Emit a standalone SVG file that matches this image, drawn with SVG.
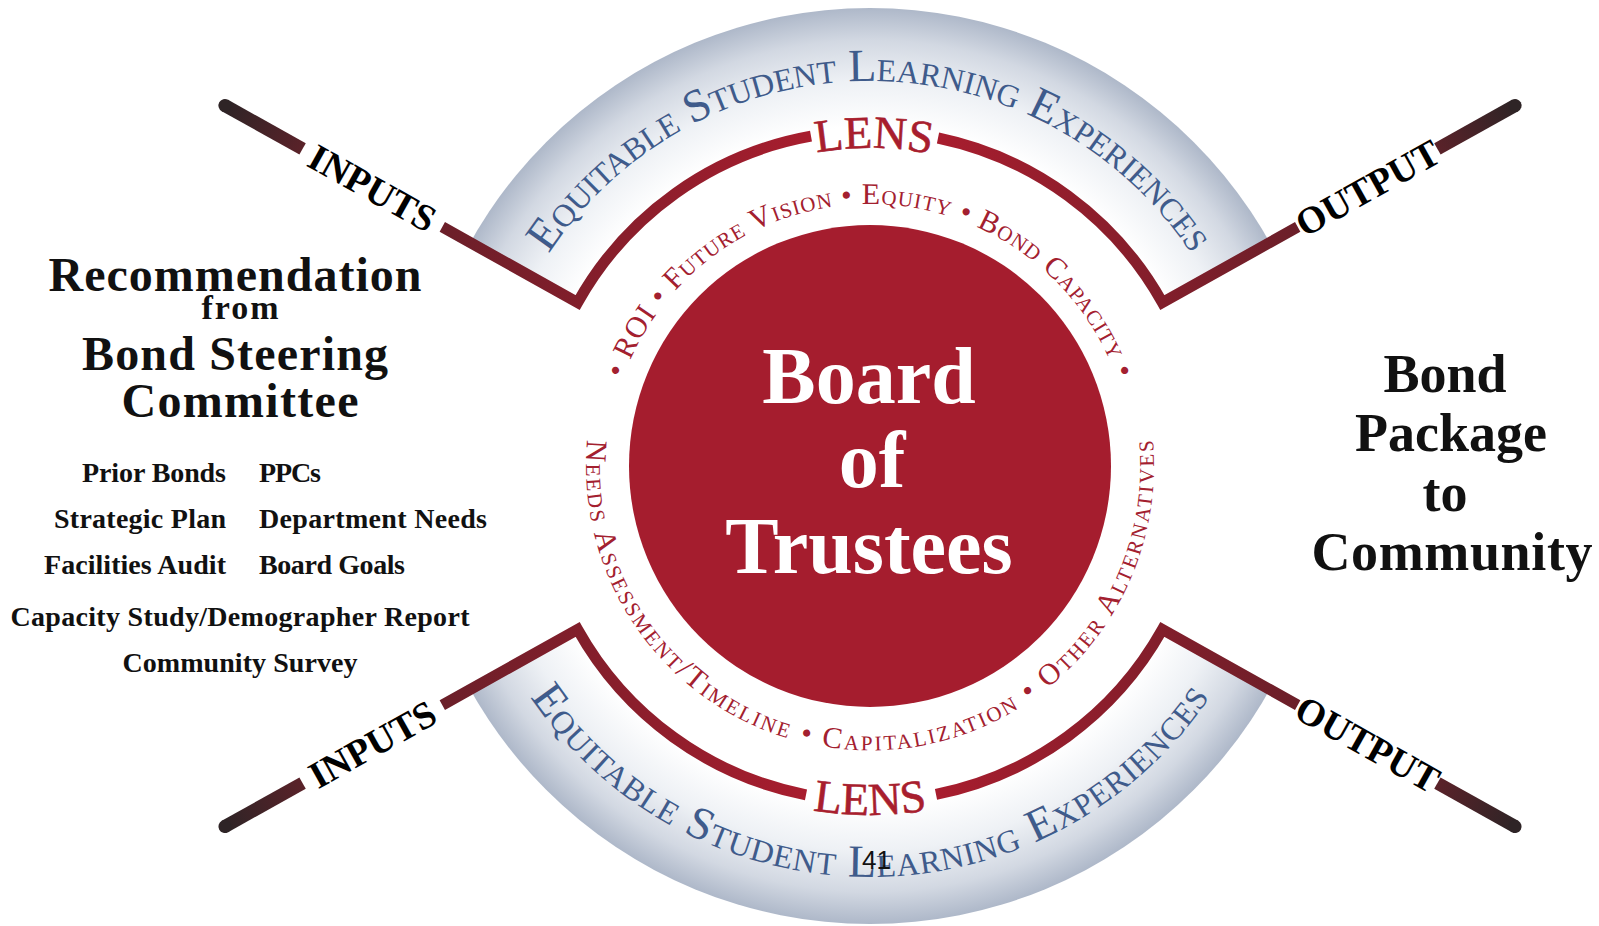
<svg xmlns="http://www.w3.org/2000/svg" width="1599" height="926" viewBox="0 0 1599 926">
<style>
.hd{font-family:"Liberation Serif","Times New Roman",serif;font-weight:bold;fill:#111}
.lbl{font-family:"Liberation Serif","Times New Roman",serif;font-weight:bold;font-size:38px;fill:#000;text-anchor:middle}
.blue{font-family:"Liberation Serif","Times New Roman",serif;font-size:46px;font-variant:small-caps;fill:#3f5b8b}
.red{font-family:"Liberation Serif","Times New Roman",serif;font-size:30px;font-variant:small-caps;fill:#a3202f}
.lens{font-family:"Liberation Serif","Times New Roman",serif;font-size:46px;fill:#a81e2e;stroke:#a81e2e;stroke-width:0.6}
.board{font-family:"Liberation Serif","Times New Roman",serif;font-weight:bold;font-size:80px;fill:#fff;text-anchor:middle}
.inner{fill:none;stroke-width:11;stroke-linejoin:miter}
.outer{stroke:url(#outerSeg);stroke-width:13}
.cap{fill:#2e2426}
</style>
<defs>
<radialGradient id="ringGrad" gradientUnits="userSpaceOnUse" cx="870" cy="466" r="458">
<stop offset="0" stop-color="#ffffff"/>
<stop offset="0.74" stop-color="#ffffff"/>
<stop offset="0.84" stop-color="#eef1f5"/>
<stop offset="0.93" stop-color="#d2d8e2"/>
<stop offset="1" stop-color="#aeb8c9"/>
</radialGradient>
<linearGradient id="arcL" x1="0" y1="0" x2="1" y2="0">
<stop offset="0" stop-color="#6b1f29"/>
<stop offset="1" stop-color="#a81d2e"/>
</linearGradient>
<linearGradient id="arcR" x1="0" y1="0" x2="1" y2="0">
<stop offset="0" stop-color="#a81d2e"/>
<stop offset="1" stop-color="#6b1f29"/>
</linearGradient>
<linearGradient id="outerSeg" gradientUnits="userSpaceOnUse" x1="650" y1="0" x2="739" y2="0">
<stop offset="0" stop-color="#5a2229"/>
<stop offset="1" stop-color="#2e2426"/>
</linearGradient>
<path id="pBlueTop" d="M547.1,256.3 A385,385 0 0 1 1192.9,256.3"/>
<path id="pBlueBot" d="M525.3,689.8 A411,411 0 0 0 1214.7,689.8"/>
<path id="pRedTop" d="M622.3,380.7 A262,262 0 0 1 1117.7,380.7"/>
<path id="pRedBot" d="M587.6,436.3 A284,284 0 1 0 1152.4,436.3"/>
<path id="pLensTop" d="M714.4,188.7 A318,318 0 0 1 1032.4,192.6"/>
<path id="pLensBot" d="M695.5,768.2 A349,349 0 0 0 1044.5,768.2"/>
</defs>

<rect width="1599" height="926" fill="#ffffff"/>

<g id="lens-ring">
<circle cx="870" cy="466" r="458" fill="url(#ringGrad)"/>
<polygon points="870,466 171.7,75.7 171.7,856.3" fill="#ffffff"/>
<polygon points="870,466 1568.3,75.7 1568.3,856.3" fill="#ffffff"/>
<circle cx="870" cy="466" r="335" fill="#ffffff"/>
<text class="blue"><textPath href="#pBlueTop" startOffset="50%" text-anchor="middle" textLength="760">Equitable Student Learning Experiences</textPath></text>
<text class="blue"><textPath href="#pBlueBot" startOffset="50%" text-anchor="middle" textLength="800">Equitable Student Learning Experiences</textPath></text>
<text class="lens"><textPath href="#pLensTop" startOffset="50%" text-anchor="middle">LENS</textPath></text>
<text class="lens"><textPath href="#pLensBot" startOffset="50%" text-anchor="middle">LENS</textPath></text>
<text class="red"><textPath href="#pRedTop" startOffset="50%" text-anchor="middle" textLength="645">• ROI • Future Vision • Equity • Bond Capacity •</textPath></text>
<text class="red"><textPath href="#pRedBot" startOffset="50%" text-anchor="middle" textLength="945">Needs Assessment/Timeline • Capitalization • Other Alternatives</textPath></text>
</g>

<g id="board">
<circle cx="870" cy="466" r="241" fill="#a51d2e"/>
<text class="board" x="869" y="403">Board</text>
<text class="board" x="872" y="487">of</text>
<text class="board" x="869" y="573">Trustees</text>
</g>

<g id="connectors">
<g id="conn-inputs-top">
<path class="inner" stroke="url(#arcL)" d="M442.3,226.9 L577.6,302.6 A335,335 0 0 1 811,136.2"/>
<g transform="translate(870 466) rotate(209.2)"><line class="outer" x1="650" y1="0" x2="739" y2="0"/><circle class="cap" cx="739" cy="0" r="6.5"/></g>
<text class="lbl" transform="translate(372.4 187.9) rotate(29.2)" y="13">INPUTS</text>
</g>
<g id="conn-output-top">
<path class="inner" stroke="url(#arcR)" d="M938,138 A335,335 0 0 1 1162.4,302.6 L1297.7,226.9"/>
<g transform="translate(870 466) rotate(-29.2)"><line class="outer" x1="650" y1="0" x2="739" y2="0"/><circle class="cap" cx="739" cy="0" r="6.5"/></g>
<text class="lbl" transform="translate(1367.6 187.9) rotate(-29.2)" y="13">OUTPUT</text>
</g>
<g id="conn-inputs-bottom">
<path class="inner" stroke="url(#arcL)" d="M442.3,705.1 L577.6,629.4 A335,335 0 0 0 806,794.8"/>
<g transform="translate(870 466) rotate(150.8)"><line class="outer" x1="650" y1="0" x2="739" y2="0"/><circle class="cap" cx="739" cy="0" r="6.5"/></g>
<text class="lbl" transform="translate(372.4 744.1) rotate(-29.2)" y="13">INPUTS</text>
</g>
<g id="conn-output-bottom">
<path class="inner" stroke="url(#arcR)" d="M936,794.4 A335,335 0 0 0 1162.4,629.4 L1297.7,705.1"/>
<g transform="translate(870 466) rotate(29.2)"><line class="outer" x1="650" y1="0" x2="739" y2="0"/><circle class="cap" cx="739" cy="0" r="6.5"/></g>
<text class="lbl" transform="translate(1367.6 744.1) rotate(29.2)" y="13">OUTPUT</text>
</g>
</g>

<g id="steering-committee">
<text class="hd" x="235" y="291" font-size="48" text-anchor="middle" textLength="373">Recommendation</text>
<text class="hd" x="240" y="319" font-size="34" text-anchor="middle" textLength="77">from</text>
<text class="hd" x="235" y="370" font-size="48" text-anchor="middle" textLength="306">Bond Steering</text>
<text class="hd" x="240" y="417" font-size="48" text-anchor="middle" textLength="237">Committee</text>
<text class="hd" x="226" y="482" font-size="28" text-anchor="end" textLength="144">Prior Bonds</text>
<text class="hd" x="226" y="528" font-size="28" text-anchor="end" textLength="172">Strategic Plan</text>
<text class="hd" x="226" y="574" font-size="28" text-anchor="end" textLength="182">Facilities Audit</text>
<text class="hd" x="259" y="482" font-size="28" textLength="62">PPCs</text>
<text class="hd" x="259" y="528" font-size="28" textLength="228">Department Needs</text>
<text class="hd" x="259" y="574" font-size="28" textLength="146">Board Goals</text>
<text class="hd" x="240" y="626" font-size="28" text-anchor="middle" textLength="459">Capacity Study/Demographer Report</text>
<text class="hd" x="240" y="672" font-size="28" text-anchor="middle" textLength="235">Community Survey</text>
</g>

<g id="bond-package">
<text class="hd" x="1445" y="392" font-size="54" text-anchor="middle">Bond</text>
<text class="hd" x="1451" y="451" font-size="54" text-anchor="middle">Package</text>
<text class="hd" x="1445" y="511" font-size="54" text-anchor="middle">to</text>
<text class="hd" x="1452" y="570" font-size="54" text-anchor="middle" textLength="281">Community</text>
</g>

<text x="862" y="869" font-family="'Liberation Sans',Arial,sans-serif" font-size="26" fill="#111">41</text>
</svg>
